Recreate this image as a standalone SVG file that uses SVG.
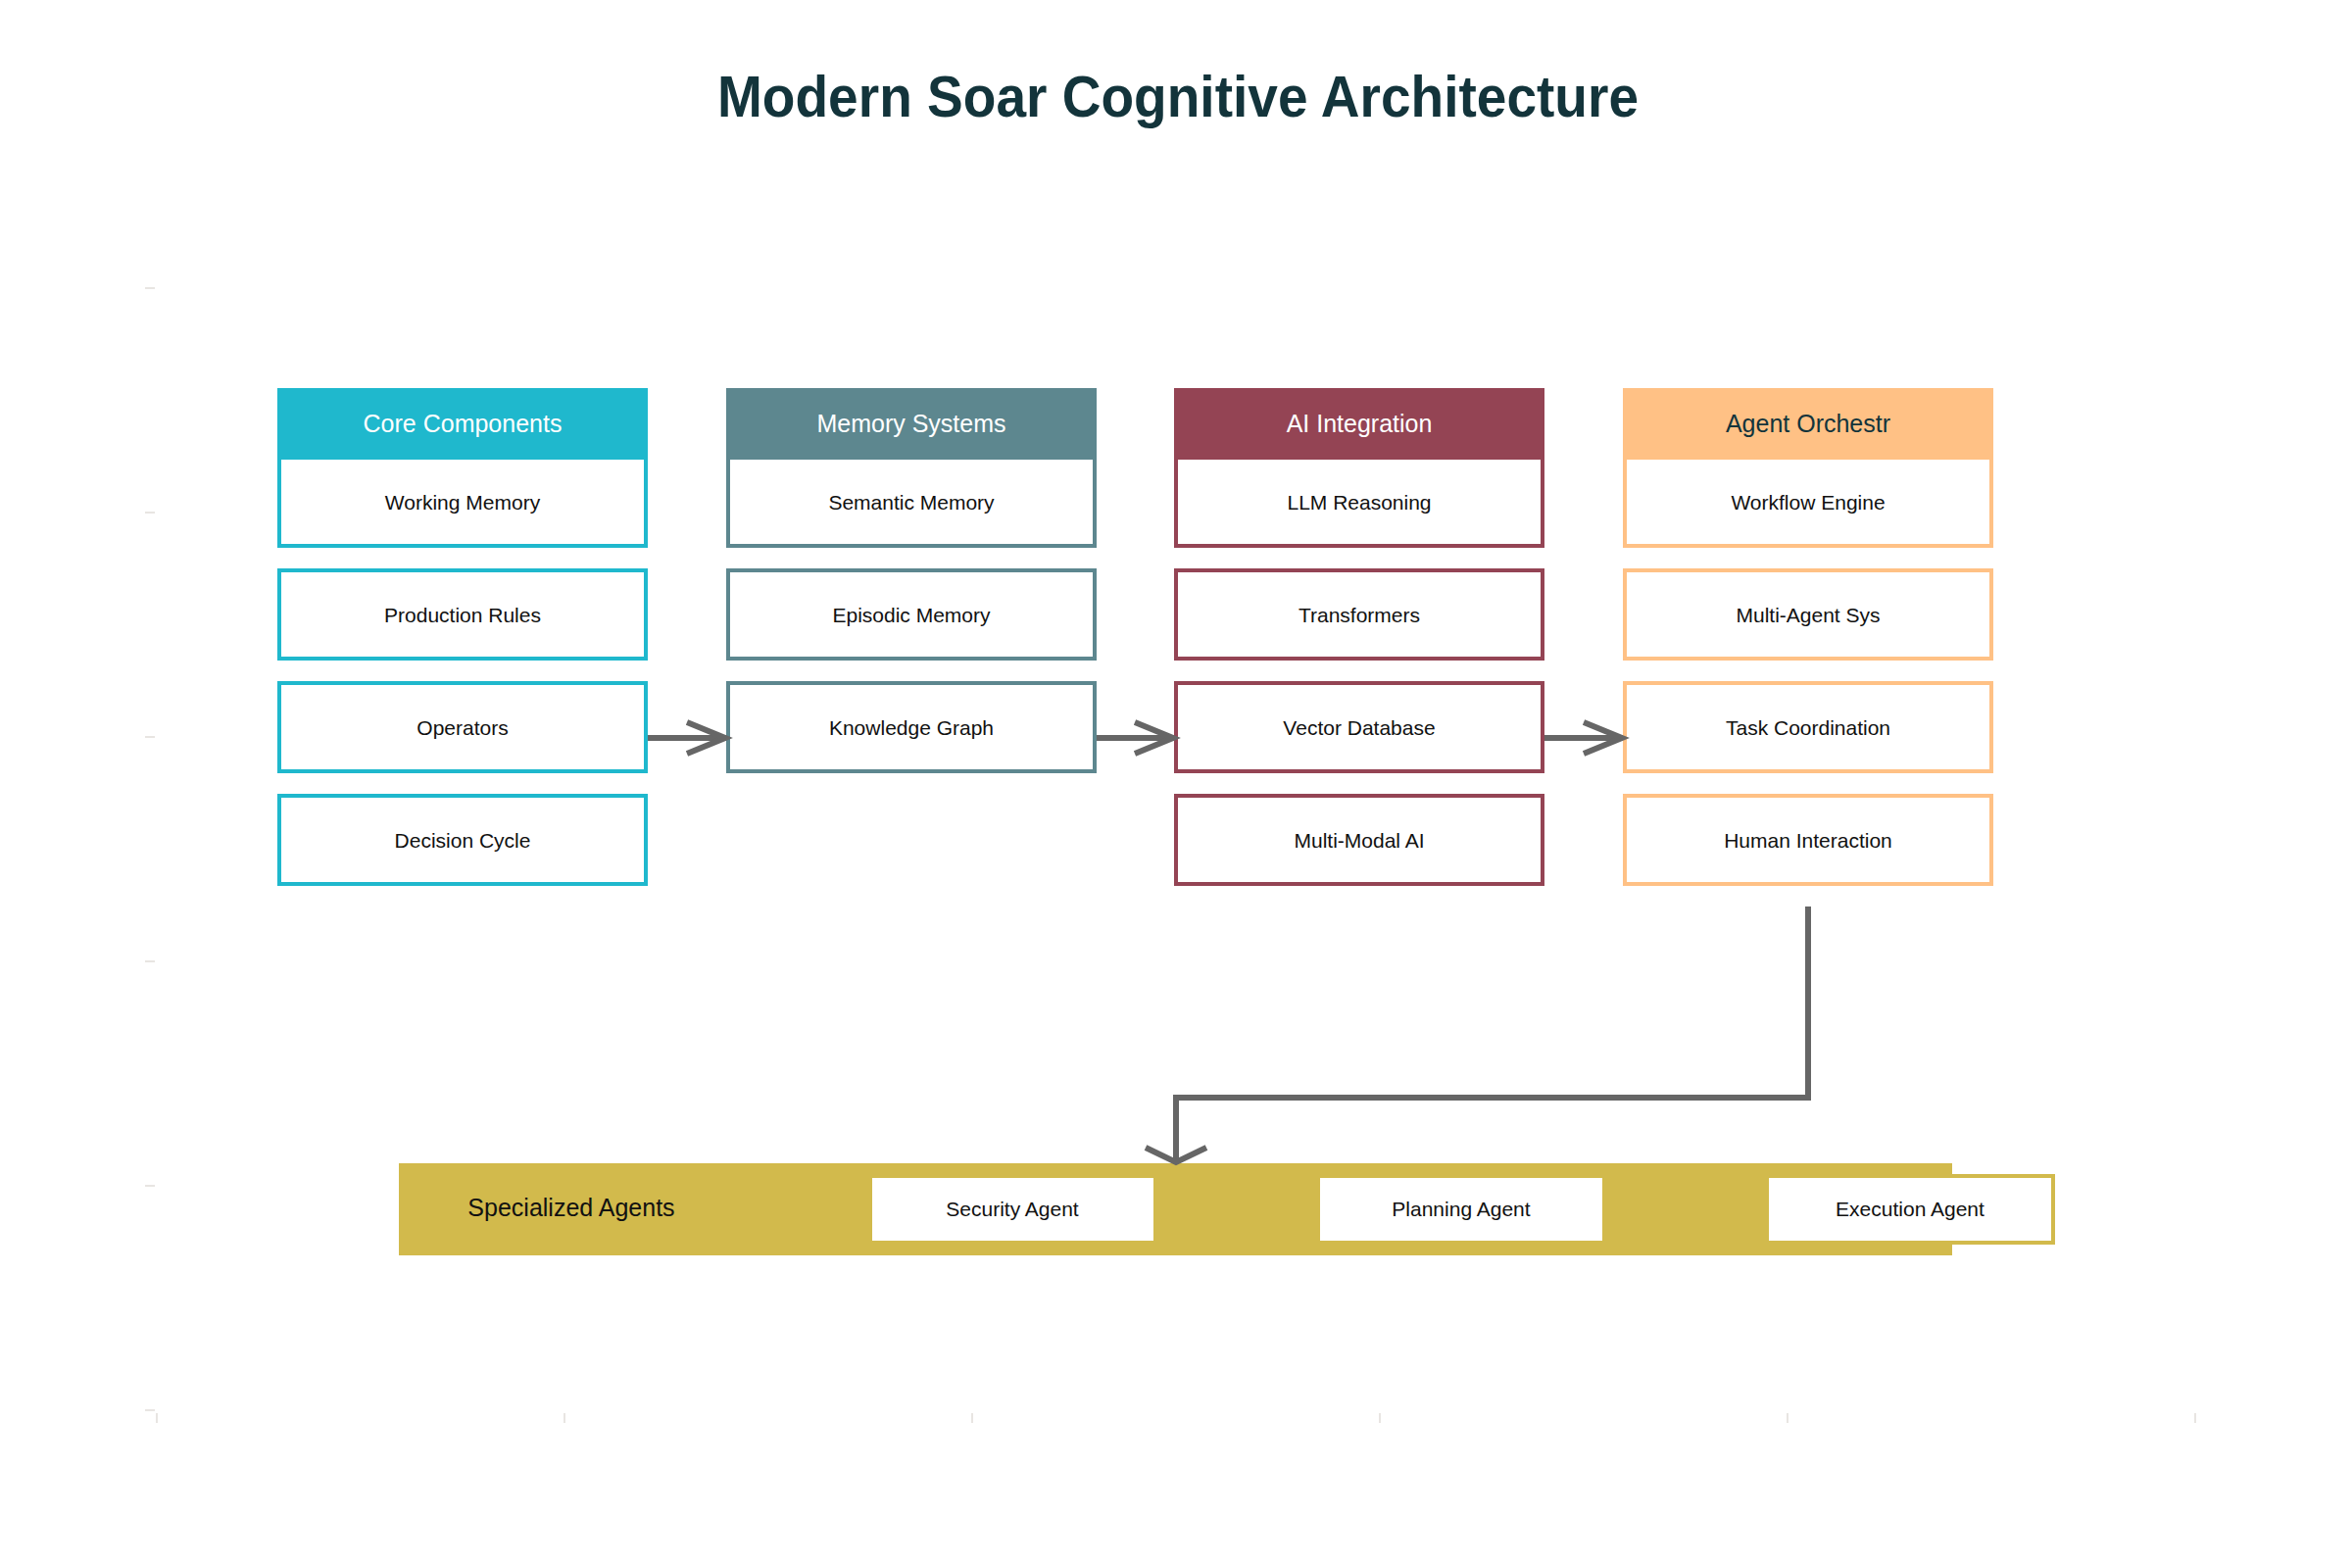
<svg xmlns="http://www.w3.org/2000/svg" width="2400" height="1600" viewBox="0 0 2400 1600">
<style>
  text { font-family: "Liberation Sans", Arial, sans-serif; }
  .title { font-size: 60px; font-weight: 700; fill: #13343B; }
  .hdr { font-size: 25px; text-anchor: middle; }
  .item { font-size: 21px; fill: #111111; text-anchor: middle; }
  .box { fill: #ffffff; stroke-width: 4; }
  .c1 { stroke: #1FB8CD; } .f1 { fill: #1FB8CD; }
  .c2 { stroke: #5D878F; } .f2 { fill: #5D878F; }
  .c3 { stroke: #944454; } .f3 { fill: #944454; }
  .c4 { stroke: #FFC185; } .f4 { fill: #FFC185; }
  .agent { fill: #ffffff; stroke: #D2BA4C; stroke-width: 4; }
  .conn { fill: none; stroke: #666666; stroke-width: 6; stroke-linecap: butt; stroke-linejoin: miter; }
  .tick { stroke: #E0DCD8; stroke-width: 1.5; }
</style>
<rect x="0" y="0" width="2400" height="1600" fill="#ffffff"/>
<g id="axes">
  <line class="tick" x1="148" y1="294" x2="158" y2="294"/>
  <line class="tick" x1="148" y1="523" x2="158" y2="523"/>
  <line class="tick" x1="148" y1="752" x2="158" y2="752"/>
  <line class="tick" x1="148" y1="981" x2="158" y2="981"/>
  <line class="tick" x1="148" y1="1210" x2="158" y2="1210"/>
  <line class="tick" x1="148" y1="1439" x2="158" y2="1439"/>
  <line class="tick" x1="160" y1="1442" x2="160" y2="1452"/>
  <line class="tick" x1="576" y1="1442" x2="576" y2="1452"/>
  <line class="tick" x1="992" y1="1442" x2="992" y2="1452"/>
  <line class="tick" x1="1408" y1="1442" x2="1408" y2="1452"/>
  <line class="tick" x1="1824" y1="1442" x2="1824" y2="1452"/>
  <line class="tick" x1="2240" y1="1442" x2="2240" y2="1452"/>
</g>
<text class="title" x="1202" y="119" text-anchor="middle" textLength="940" lengthAdjust="spacingAndGlyphs">Modern Soar Cognitive Architecture</text>

<g id="core-components">
  <rect class="f1" x="283" y="396" width="378" height="71"/>
  <text class="hdr" x="472" y="441" fill="#ffffff">Core Components</text>
  <rect class="box c1" x="285" y="467" width="374" height="90"/>
  <text class="item" x="472" y="520">Working Memory</text>
  <rect class="box c1" x="285" y="582" width="374" height="90"/>
  <text class="item" x="472" y="635">Production Rules</text>
  <rect class="box c1" x="285" y="697" width="374" height="90"/>
  <text class="item" x="472" y="750">Operators</text>
  <rect class="box c1" x="285" y="812" width="374" height="90"/>
  <text class="item" x="472" y="865">Decision Cycle</text>
</g>

<g id="memory-systems">
  <rect class="f2" x="741" y="396" width="378" height="71"/>
  <text class="hdr" x="930" y="441" fill="#ffffff">Memory Systems</text>
  <rect class="box c2" x="743" y="467" width="374" height="90"/>
  <text class="item" x="930" y="520">Semantic Memory</text>
  <rect class="box c2" x="743" y="582" width="374" height="90"/>
  <text class="item" x="930" y="635">Episodic Memory</text>
  <rect class="box c2" x="743" y="697" width="374" height="90"/>
  <text class="item" x="930" y="750">Knowledge Graph</text>
</g>

<g id="ai-integration">
  <rect class="f3" x="1198" y="396" width="378" height="71"/>
  <text class="hdr" x="1387" y="441" fill="#ffffff">AI Integration</text>
  <rect class="box c3" x="1200" y="467" width="374" height="90"/>
  <text class="item" x="1387" y="520">LLM Reasoning</text>
  <rect class="box c3" x="1200" y="582" width="374" height="90"/>
  <text class="item" x="1387" y="635">Transformers</text>
  <rect class="box c3" x="1200" y="697" width="374" height="90"/>
  <text class="item" x="1387" y="750">Vector Database</text>
  <rect class="box c3" x="1200" y="812" width="374" height="90"/>
  <text class="item" x="1387" y="865">Multi-Modal AI</text>
</g>

<g id="agent-orchestr">
  <rect class="f4" x="1656" y="396" width="378" height="71"/>
  <text class="hdr" x="1845" y="441" fill="#13343B">Agent Orchestr</text>
  <rect class="box c4" x="1658" y="467" width="374" height="90"/>
  <text class="item" x="1845" y="520">Workflow Engine</text>
  <rect class="box c4" x="1658" y="582" width="374" height="90"/>
  <text class="item" x="1845" y="635">Multi-Agent Sys</text>
  <rect class="box c4" x="1658" y="697" width="374" height="90"/>
  <text class="item" x="1845" y="750">Task Coordination</text>
  <rect class="box c4" x="1658" y="812" width="374" height="90"/>
  <text class="item" x="1845" y="865">Human Interaction</text>
</g>

<g id="specialized-agents">
  <rect x="407" y="1187" width="1585" height="94" fill="#D2BA4C"/>
  <text x="583" y="1241" font-size="25" fill="#111111" text-anchor="middle">Specialized Agents</text>
  <rect class="agent" x="888" y="1200" width="291" height="68"/>
  <text class="item" x="1033" y="1241">Security Agent</text>
  <rect class="agent" x="1345" y="1200" width="292" height="68"/>
  <text class="item" x="1491" y="1241">Planning Agent</text>
  <rect class="agent" x="1803" y="1200" width="292" height="68"/>
  <text class="item" x="1949" y="1241">Execution Agent</text>
</g>

<g id="connectors">
  <line class="conn" x1="661" y1="753" x2="738" y2="753"/>
  <polyline class="conn" points="701,737 740,753 701,769"/>
  <line class="conn" x1="1119" y1="753" x2="1195" y2="753"/>
  <polyline class="conn" points="1158,737 1197,753 1158,769"/>
  <line class="conn" x1="1576" y1="753" x2="1653" y2="753"/>
  <polyline class="conn" points="1616,737 1655,753 1616,769"/>
  <path class="conn" d="M1845 925 V1120 H1200 V1184"/>
  <polyline class="conn" points="1169,1171 1200,1186 1231,1171"/>
</g>
</svg>
